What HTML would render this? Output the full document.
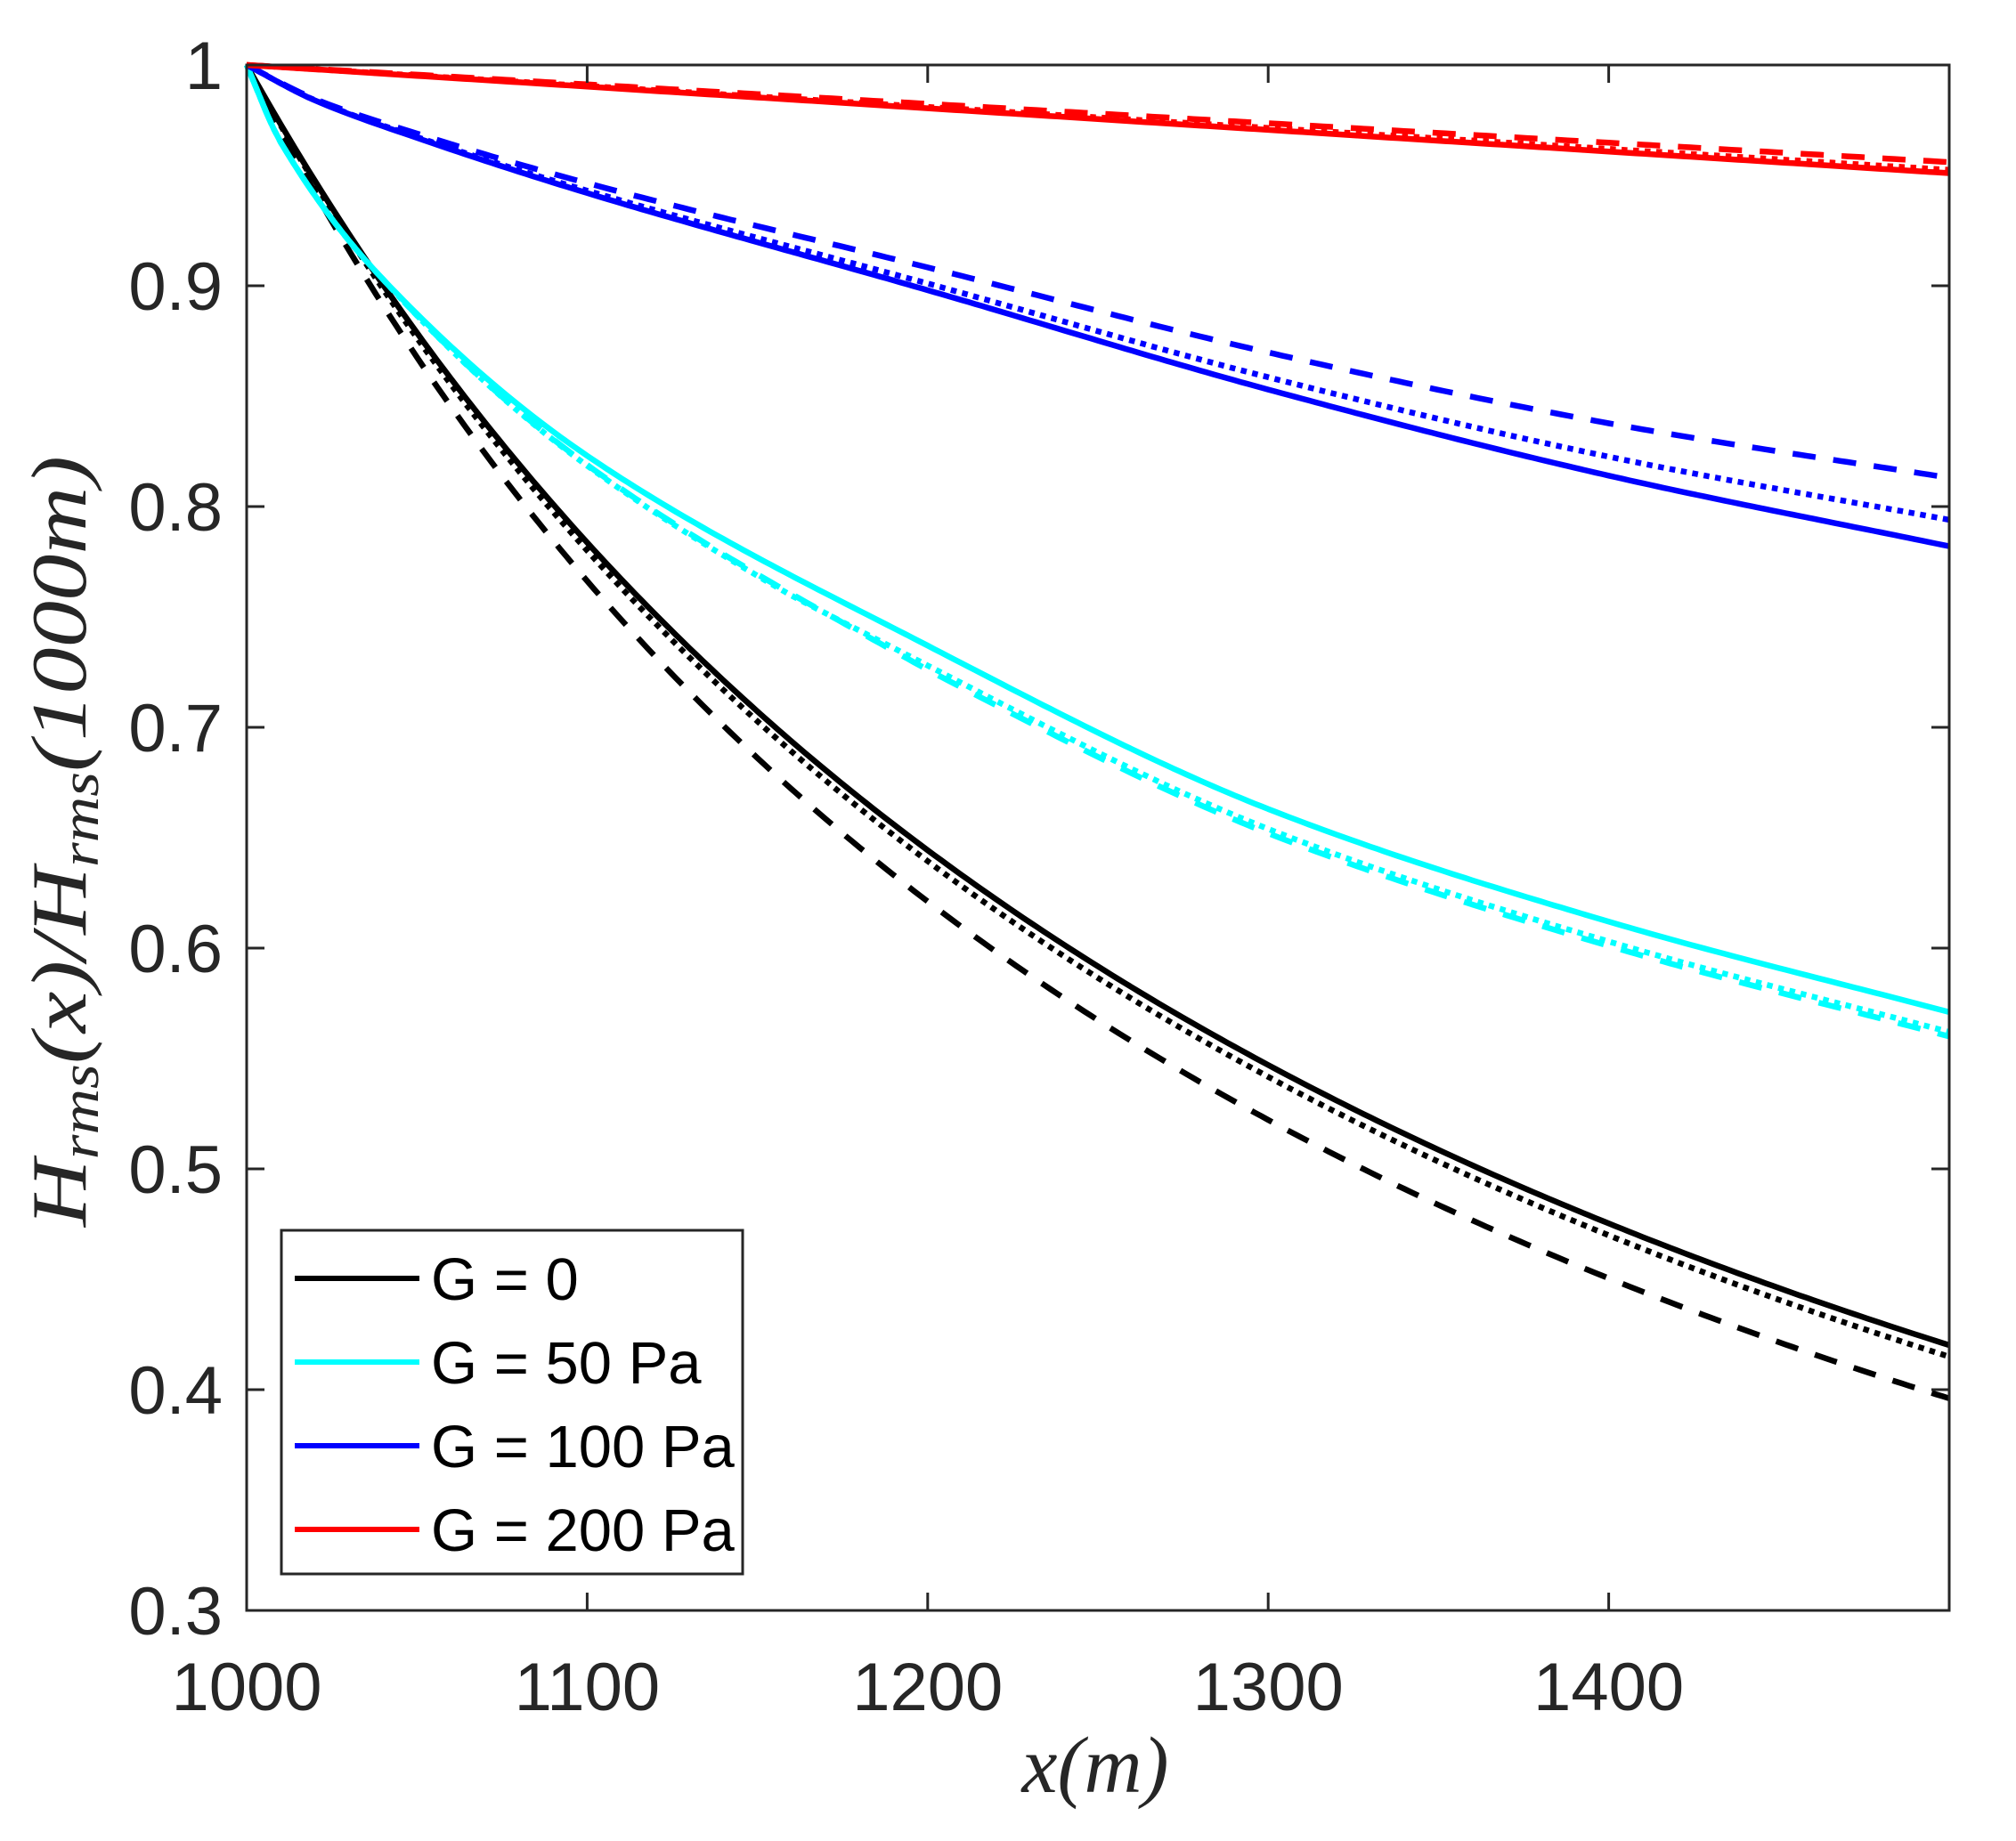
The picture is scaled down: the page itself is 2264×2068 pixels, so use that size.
<!DOCTYPE html>
<html><head><meta charset="utf-8"><style>
html,body{margin:0;padding:0;background:#fff;}
svg{display:block;}
</style></head><body>
<svg id="s" width="2264" height="2068" viewBox="0 0 2264 2068" xmlns="http://www.w3.org/2000/svg">
<rect width="2264" height="2068" fill="#fff"/>
<g id="series" fill="none" stroke-width="6.5" stroke-linejoin="round"></g>
<g id="axes" stroke="#262626" stroke-width="3" fill="none"></g>
<g id="labels" font-family="Liberation Sans, sans-serif" font-size="76" fill="#262626"></g>
<text x="1230" y="2013" font-family="Liberation Serif, serif" font-style="italic" font-size="90" text-anchor="middle" fill="#262626">x(m)</text>
<text transform="translate(96,945) rotate(-90)" font-family="Liberation Serif, serif" font-style="italic" font-size="88" text-anchor="middle" fill="#262626" textLength="866" lengthAdjust="spacingAndGlyphs">H<tspan font-size="60" dy="14">rms</tspan><tspan dy="-14">(x)/H</tspan><tspan font-size="60" dy="14">rms</tspan><tspan dy="-14">(1000m)</tspan></text>
<g id="legend"></g>
</svg>
<script>
var L=277,R=2189,T=73,B=1809;
function X(x){return L+(x-1000)/500*(R-L);}
function Y(y){return T+(1-y)/0.7*(B-T);}
function mono(pts){
  var n=pts.length,xs=pts.map(p=>p[0]),ys=pts.map(p=>p[1]),d=[],m=[];
  for(var i=0;i<n-1;i++)d.push((ys[i+1]-ys[i])/(xs[i+1]-xs[i]));
  m[0]=d[0];m[n-1]=d[n-2];
  for(i=1;i<n-1;i++){m[i]=(d[i-1]*d[i]<=0)?0:2/(1/d[i-1]+1/d[i]);}
  return function(x){
    var k=0;while(k<n-2&&x>xs[k+1])k++;
    var h=xs[k+1]-xs[k],t=(x-xs[k])/h,t2=t*t,t3=t2*t;
    return (2*t3-3*t2+1)*ys[k]+(t3-2*t2+t)*h*m[k]+(-2*t3+3*t2)*ys[k+1]+(t3-t2)*h*m[k+1];
  };
}
var cy=mono([[1000,1],[1010,.965],[1040,.903],[1100,.823],[1200,.737],[1300,.663],[1400,.612],[1500,.571]]);
var bl=mono([[1000,1],[1020,.984],[1050,.967],[1100,.942],[1200,.898],[1300,.853],[1400,.814],[1500,.782]]);
function cl(v){return Math.max(0,Math.min(1,v));}
var series=[
 ['#000','solid',x=>1/(1+0.00276*(x-1000))],
 ['#000','dot',x=>1/(1+0.00282*(x-1000))],
 ['#000','dash',x=>1/(1+0.00305*(x-1000))],
 ['#00ffff','solid',cy],
 ['#00ffff','dot',x=>cy(x)-0.009*cl((x-1040)/120)],
 ['#00ffff','dash',x=>cy(x)-0.011*cl((x-1040)/160)],
 ['#0000ff','solid',bl],
 ['#0000ff','dot',x=>bl(x)+0.012*Math.pow((x-1000)/500,1.5)],
 ['#0000ff','dash',x=>bl(x)+0.031*Math.pow((x-1000)/500,1.2)],
 ['#ff0000','solid',x=>1-0.000098*(x-1000)],
 ['#ff0000','dot',x=>1-0.000098*(x-1000)+0.0015*(x-1000)/500],
 ['#ff0000','dash',x=>1-0.000098*(x-1000)+0.005*(x-1000)/500]
];
var NS='http://www.w3.org/2000/svg';
function el(tag,attrs,parent,txt){var e=document.createElementNS(NS,tag);for(var k in attrs)e.setAttribute(k,attrs[k]);if(txt!=null)e.textContent=txt;parent.appendChild(e);return e;}
var sg=document.getElementById('series');
series.forEach(function(s){
  var p='';for(var x=1000;x<=1500.001;x+=2){p+=(p?'L':'M')+X(x).toFixed(1)+' '+Y(s[2](x)).toFixed(1);}
  var a={d:p,stroke:s[0]};
  if(s[1]=='dash')a['stroke-dasharray']='26 20';
  if(s[1]=='dot')a['stroke-dasharray']='6.5 6.5';
  el('path',a,sg);
});
var ag=document.getElementById('axes');
el('rect',{x:L,y:T,width:R-L,height:B-T},ag);
var lg=document.getElementById('labels');
for(var v=0;v<=5;v++){
  var xv=1000+100*v,px=X(xv);
  if(v>0&&v<5){el('line',{x1:px,y1:B,x2:px,y2:B-20},ag);el('line',{x1:px,y1:T,x2:px,y2:T+20},ag);}
  if(v<5)el('text',{x:px,y:1921,'text-anchor':'middle'},lg,String(xv));
}
['0.3','0.4','0.5','0.6','0.7','0.8','0.9','1'].forEach(function(t){
  var py=Y(parseFloat(t));
  el('line',{x1:L,y1:py,x2:L+20,y2:py},ag);el('line',{x1:R,y1:py,x2:R-20,y2:py},ag);
  el('text',{x:250,y:py+27,'text-anchor':'end'},lg,t);
});
var leg=document.getElementById('legend');
el('rect',{x:316,y:1382,width:518,height:386,fill:'#fff',stroke:'#262626','stroke-width':3},leg);
[['#000','G = 0'],['#00ffff','G = 50 Pa'],['#0000ff','G = 100 Pa'],['#ff0000','G = 200 Pa']].forEach(function(e,i){
  var y=1436+i*94;
  el('line',{x1:331,y1:y,x2:471,y2:y,stroke:e[0],'stroke-width':6},leg);
  el('text',{x:484,y:y+24,'font-family':'Liberation Sans, sans-serif','font-size':67,fill:'#000'},leg,e[1]);
});
</script>
</body></html>
